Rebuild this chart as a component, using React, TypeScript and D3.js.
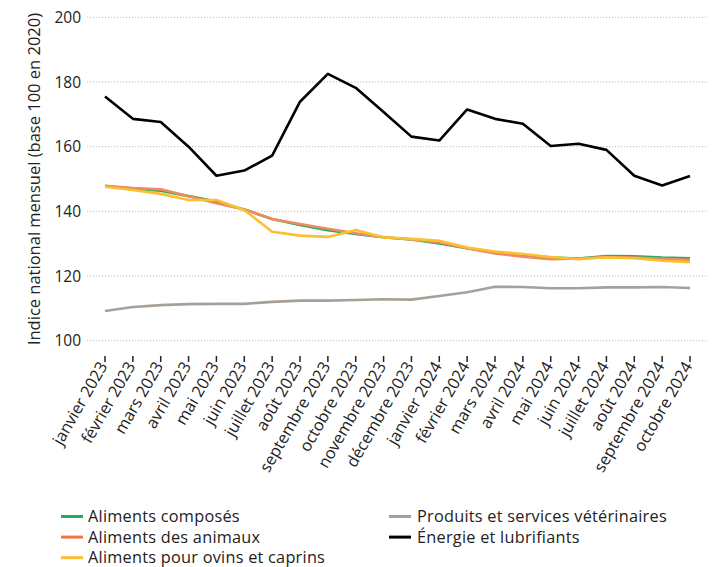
import React from "react";
import * as d3 from "d3";

const months = [
  "janvier 2023", "février 2023", "mars 2023", "avril 2023", "mai 2023", "juin 2023",
  "juillet 2023", "août 2023", "septembre 2023", "octobre 2023", "novembre 2023", "décembre 2023",
  "janvier 2024", "février 2024", "mars 2024", "avril 2024", "mai 2024", "juin 2024",
  "juillet 2024", "août 2024", "septembre 2024", "octobre 2024",
];

const alimentsComposes = [
  147.8, 147.0, 146.4, 144.7, 143.0, 140.6, 137.6, 135.8, 134.2, 133.0, 132.0, 131.3,
  130.1, 128.6, 127.3, 126.5, 125.7, 125.4, 126.2, 126.1, 125.7, 125.5,
];
const alimentsAnimaux = [
  147.9, 147.2, 146.8, 144.7, 142.5, 140.6, 137.6, 136.1, 134.6, 133.2, 132.0, 131.3,
  130.4, 128.6, 127.0, 126.0, 125.2, 125.4, 125.9, 125.7, 125.3, 125.0,
];
const alimentsOvins = [
  147.6, 146.6, 145.4, 143.5, 143.5, 140.4, 133.7, 132.5, 132.1, 134.2, 132.0, 131.5,
  130.9, 128.8, 127.6, 126.8, 125.9, 125.2, 125.8, 125.5, 124.7, 124.3,
];
const veterinaires = [
  109.2, 110.4, 111.0, 111.3, 111.4, 111.4, 112.0, 112.4, 112.4, 112.6, 112.8, 112.7,
  113.8, 115.0, 116.7, 116.6, 116.2, 116.2, 116.5, 116.5, 116.6, 116.3,
];
const energie = [
  175.5, 168.6, 167.6, 160.0, 151.0, 152.6, 157.2, 173.9, 182.5, 178.2, 170.7, 163.1,
  161.9, 171.5, 168.6, 167.1, 160.2, 160.9, 159.0, 151.0, 148.0, 150.9,
];

const yTicks = [100, 120, 140, 160, 180, 200];

const series = [
  { name: "Produits et services vétérinaires", values: veterinaires, color: "#a8a097" },
  { name: "Énergie et lubrifiants", values: energie, color: "#000000" },
  { name: "Aliments composés", values: alimentsComposes, color: "#1fad5f" },
  { name: "Aliments des animaux", values: alimentsAnimaux, color: "#f08a63" },
  { name: "Aliments pour ovins et caprins", values: alimentsOvins, color: "#fbc02d" },
];

const legendLeft = [
  { name: "Aliments composés", color: "#1fad5f" },
  { name: "Aliments des animaux", color: "#f2773f" },
  { name: "Aliments pour ovins et caprins", color: "#fbc02d" },
];
const legendRight = [
  { name: "Produits et services vétérinaires", color: "#a8a097" },
  { name: "Énergie et lubrifiants", color: "#000000" },
];

const W = 715;
const H = 567;
const font = "'Open Sans', sans-serif";

export default function App() {
  const x = d3.scalePoint<string>().domain(months).range([105, 690]);
  const y = d3.scaleLinear().domain([100, 200]).range([340.7, 17.3]);
  const line = d3
    .line<number>()
    .x((_, i) => x(months[i]) as number)
    .y((d) => y(d));

  return (
    <svg
      width={W}
      height={H}
      style={{ position: "absolute", left: 0, top: 0, background: "#fff" }}
      fontFamily={font}
    >
      {yTicks.map((t) => (
        <g key={t}>
          <line
            x1={87}
            x2={708}
            y1={y(t)}
            y2={y(t)}
            stroke="#bdbdbd"
            strokeWidth={1}
            strokeDasharray="1.2,1.8"
          />
          <text x={81} y={y(t)} dy="0.36em" textAnchor="end" fontSize={15.5} fill="#222">
            {t}
          </text>
        </g>
      ))}
      <text
        transform={`translate(34,${(y(100) + y(200)) / 2}) rotate(-90)`}
        textAnchor="middle"
        dy="0.35em"
        fontSize={16.5}
        fill="#222"
      >
        Indice national mensuel (base 100 en 2020)
      </text>

      {months.map((m) => {
        const px = x(m) as number;
        return (
          <g key={m}>
            <line x1={px} x2={px} y1={356} y2={362} stroke="#222" strokeWidth={1.5} />
            <text
              transform={`translate(${px + 3},${366}) rotate(-60)`}
              textAnchor="end"
              fontSize={16.3}
              fill="#222"
            >
              {m}
            </text>
          </g>
        );
      })}

      {series.map((s) => (
        <path
          key={s.name}
          d={line(s.values) || ""}
          fill="none"
          stroke={s.color}
          strokeWidth={2.6}
          strokeLinejoin="round"
        />
      ))}

      {legendLeft.map((l, i) => (
        <g key={l.name} transform={`translate(61,${516.5 + i * 20.6})`}>
          <line x1={0} x2={22} y1={0} y2={0} stroke={l.color} strokeWidth={3} />
          <text x={27} y={0} dy="0.35em" fontSize={16.3} letterSpacing={0.25} fill="#222">
            {l.name}
          </text>
        </g>
      ))}
      {legendRight.map((l, i) => (
        <g key={l.name} transform={`translate(389,${516.5 + i * 20.6})`}>
          <line x1={0} x2={22} y1={0} y2={0} stroke={l.color} strokeWidth={3} />
          <text x={28} y={0} dy="0.35em" fontSize={16.3} letterSpacing={0.25} fill="#222">
            {l.name}
          </text>
        </g>
      ))}
    </svg>
  );
}
